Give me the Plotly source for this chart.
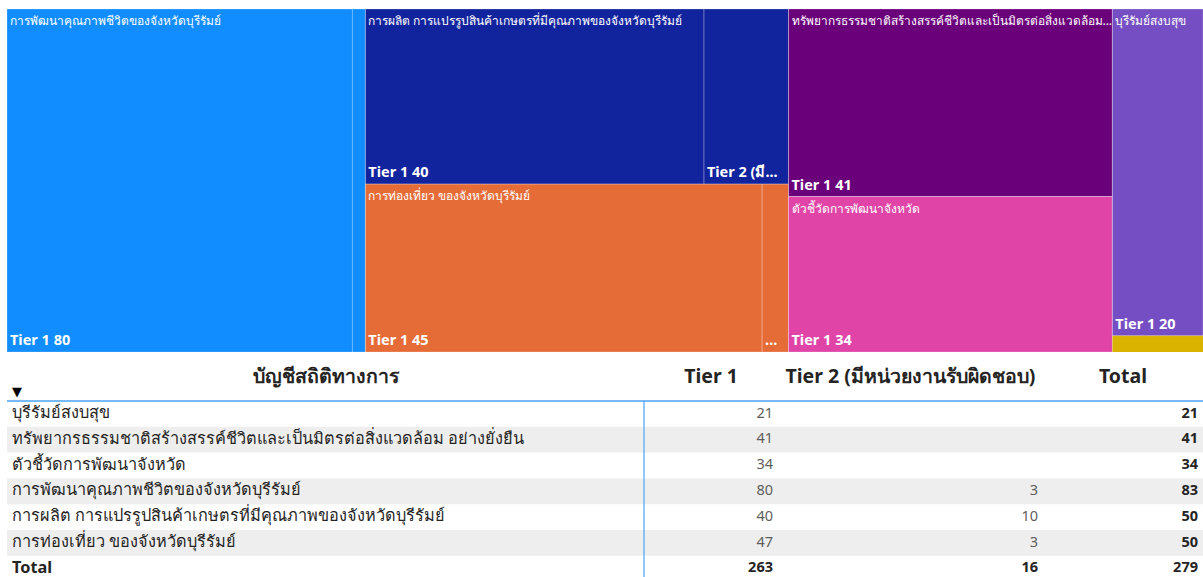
import plotly.graph_objects as go

W, H = 1203, 577
FONT = "Segoe UI, Noto Sans, Open Sans, sans-serif"

# ---------------- treemap data ----------------
group_names = [
    "การพัฒนาคุณภาพชีวิตของจังหวัดบุรีรัมย์",
    "การผลิต การแปรรูปสินค้าเกษตรที่มีคุณภาพของจังหวัดบุรีรัมย์",
    "การท่องเที่ยว ของจังหวัดบุรีรัมย์",
    "ทรัพยากรธรรมชาติสร้างสรรค์ชีวิตและเป็นมิตรต่อสิ่งแวดล้อม อย่างยั่งยืน",
    "ตัวชี้วัดการพัฒนาจังหวัด",
    "บุรีรัมย์สงบสุข",
]
group_display = [
    "การพัฒนาคุณภาพชีวิตของจังหวัดบุรีรัมย์",
    "การผลิต การแปรรูปสินค้าเกษตรที่มีคุณภาพของจังหวัดบุรีรัมย์",
    "การท่องเที่ยว ของจังหวัดบุรีรัมย์",
    "ทรัพยากรธรรมชาติสร้างสรรค์ชีวิตและเป็นมิตรต่อสิ่งแวดล้อม...",
    "ตัวชี้วัดการพัฒนาจังหวัด",
    "บุรีรัมย์สงบสุข",
]
group_colors = ["#118DFF", "#12239E", "#E66C37", "#6B007B", "#E044A7", "#744EC2"]
tm_tier1 = [80, 40, 45, 41, 34, 20]
tm_tier2 = [3, 10, 3, 0, 0, 0]
tier2_display = ["", "Tier 2 (มี...", "...", "", "", ""]
other_name = "อื่นๆ"
other_value = 1
other_color = "#D9B300"

tier1_label = "Tier 1"
tier2_label = "Tier 2 (มีหน่วยงานรับผิดชอบ)"

# ---------------- table data ----------------
table_header = ["บัญชีสถิติทางการ", "Tier 1", "Tier 2 (มีหน่วยงานรับผิดชอบ)", "Total"]
table_categories = [
    "บุรีรัมย์สงบสุข",
    "ทรัพยากรธรรมชาติสร้างสรรค์ชีวิตและเป็นมิตรต่อสิ่งแวดล้อม อย่างยั่งยืน",
    "ตัวชี้วัดการพัฒนาจังหวัด",
    "การพัฒนาคุณภาพชีวิตของจังหวัดบุรีรัมย์",
    "การผลิต การแปรรูปสินค้าเกษตรที่มีคุณภาพของจังหวัดบุรีรัมย์",
    "การท่องเที่ยว ของจังหวัดบุรีรัมย์",
]
table_tier1 = [21, 41, 34, 80, 40, 47]
table_tier2 = [None, None, None, 3, 10, 3]

# ---------------- build treemap ----------------
ids, parents, labels, values = [], [], [], []
fill1, line_w, line_c, text1, text2 = [], [], [], [], []
for g, disp, col, v1, v2, t2d in zip(group_names, group_display, group_colors,
                                      tm_tier1, tm_tier2, tier2_display):
    ids.append(g); parents.append(""); labels.append(g); values.append(0)
    fill1.append(col); line_w.append(0); line_c.append(col)
    text1.append(""); text2.append("")
    first = True
    for tl, v, disp2 in [(tier1_label, v1, f"{tier1_label} {v1}"), (tier2_label, v2, t2d)]:
        if v <= 0:
            continue
        ids.append(g + "|" + tl); parents.append(g); labels.append(tl); values.append(v)
        fill1.append("rgba(0,0,0,0)"); line_w.append(1); line_c.append("rgba(255,255,255,0.22)")
        text1.append(disp if first else "")
        text2.append(f"<b>{disp2}</b>" if disp2 else "")
        first = False
ids.append(other_name); parents.append(""); labels.append(other_name); values.append(other_value)
fill1.append(other_color); line_w.append(0); line_c.append(other_color)
text1.append(""); text2.append("")

tm_domain = dict(x=[7 / W, 1.0], y=[(H - 352) / H, (H - 9) / H])
common = dict(ids=ids, parents=parents, labels=labels, values=values,
              branchvalues="remainder", sort=True,
              tiling=dict(packing="squarify", squarifyratio=1.618, pad=0),
              pathbar=dict(visible=False), domain=tm_domain,
              texttemplate="%{text}", hoverinfo="label+value")

fig = go.Figure()
fig.add_trace(go.Treemap(
    **common, text=text1, textposition="top left",
    marker=dict(colors=fill1, line=dict(width=line_w, color=line_c),
                pad=dict(t=0, l=0, r=0, b=0)),
    textfont=dict(family=FONT, size=12, color="white"),
))
fig.add_trace(go.Treemap(
    **common, text=text2, textposition="bottom left",
    marker=dict(colors=["rgba(0,0,0,0)"] * len(ids), line=dict(width=0),
                pad=dict(t=0, l=0, r=0, b=0)),
    textfont=dict(family=FONT, size=14.5, color="white"),
))

# ---------------- build table (cartesian, row units) ----------------
tot1 = sum(table_tier1)
tot2 = sum(v for v in table_tier2 if v is not None)
row_tot = [a + (b or 0) for a, b in zip(table_tier1, table_tier2)]
col0 = table_categories + ["<b>Total</b>"]
col1 = [str(v) for v in table_tier1] + [f"<b>{tot1}</b>"]
col2 = ["" if v is None else str(v) for v in table_tier2] + [f"<b>{tot2}</b>"]
col3 = [f"<b>{v}</b>" for v in row_tot] + [f"<b>{tot1 + tot2}</b>"]
nrows = len(col0)
row_y = [i + 0.5 for i in range(nrows)]
row_fill = ["rgba(0,0,0,0)" if i % 2 == 0 else "#EEEEEE" for i in range(nrows)]

col_edges = [7, 644, 778, 1043, W]
row_px, body_top_px, table_top_px = 25.8, 401, 355
y_top = (table_top_px - body_top_px) / row_px
y_bot = (H - body_top_px) / row_px

fig.add_trace(go.Bar(
    y=row_y, x=[col_edges[-1] - col_edges[0]] * nrows, base=col_edges[0],
    orientation="h", width=1, marker=dict(color=row_fill, line=dict(width=0)),
    xaxis="x", yaxis="y", hoverinfo="skip",
))

dark, grey = "#252423", "#605E5C"
last = nrows - 1
fig.add_trace(go.Scatter(
    x=[col_edges[0] + 5] * nrows, y=row_y, text=col0, mode="text",
    textposition="middle right", cliponaxis=False, hoverinfo="skip",
    textfont=dict(family=FONT, size=16.3, color=dark),
))
for vals, edge, colr in [(col1, col_edges[2], grey), (col2, col_edges[3], grey),
                         (col3, col_edges[4], dark)]:
    fig.add_trace(go.Scatter(
        x=[edge - 5] * nrows, y=row_y, text=vals, mode="text",
        textposition="middle left", cliponaxis=False, hoverinfo="skip",
        textfont=dict(family=FONT, size=14.5,
                      color=[colr if i != last else dark for i in range(nrows)]),
    ))
hdr_x = [(col_edges[i] + col_edges[i + 1]) / 2 for i in range(4)]
fig.add_trace(go.Scatter(
    x=hdr_x, y=[(378 - body_top_px) / row_px] * 4,
    text=[f"<b>{h}</b>" for h in table_header], mode="text",
    textposition="middle center", cliponaxis=False, hoverinfo="skip",
    textfont=dict(family=FONT, size=19.5, color=dark),
))
fig.add_trace(go.Scatter(
    x=[17], y=[(393 - body_top_px) / row_px], text=["▼"], mode="text",
    textposition="middle center", cliponaxis=False, hoverinfo="skip",
    textfont=dict(family="DejaVu Sans", size=13, color="black"),
))

line_color = "#4AA3F5"
fig.add_shape(type="line", xref="x", yref="y", x0=col_edges[0], x1=col_edges[-1],
              y0=0, y1=0, line=dict(color=line_color, width=1.5))
fig.add_shape(type="line", xref="x", yref="y", x0=col_edges[1], x1=col_edges[1],
              y0=0, y1=y_bot, line=dict(color=line_color, width=1.2))

fig.update_layout(
    width=W, height=H, margin=dict(l=0, r=0, t=0, b=0),
    paper_bgcolor="white", plot_bgcolor="rgba(0,0,0,0)",
    font=dict(family=FONT), showlegend=False, barmode="overlay",
    xaxis=dict(domain=[0, 1], range=[0, W], visible=False, fixedrange=True),
    yaxis=dict(domain=[0, (H - table_top_px) / H], range=[y_bot, y_top],
               visible=False, fixedrange=True),
)
fig.write_html("out.html", config={"displayModeBar": False},
               post_script="document.body.style.margin='0';document.body.style.overflow='hidden';")
